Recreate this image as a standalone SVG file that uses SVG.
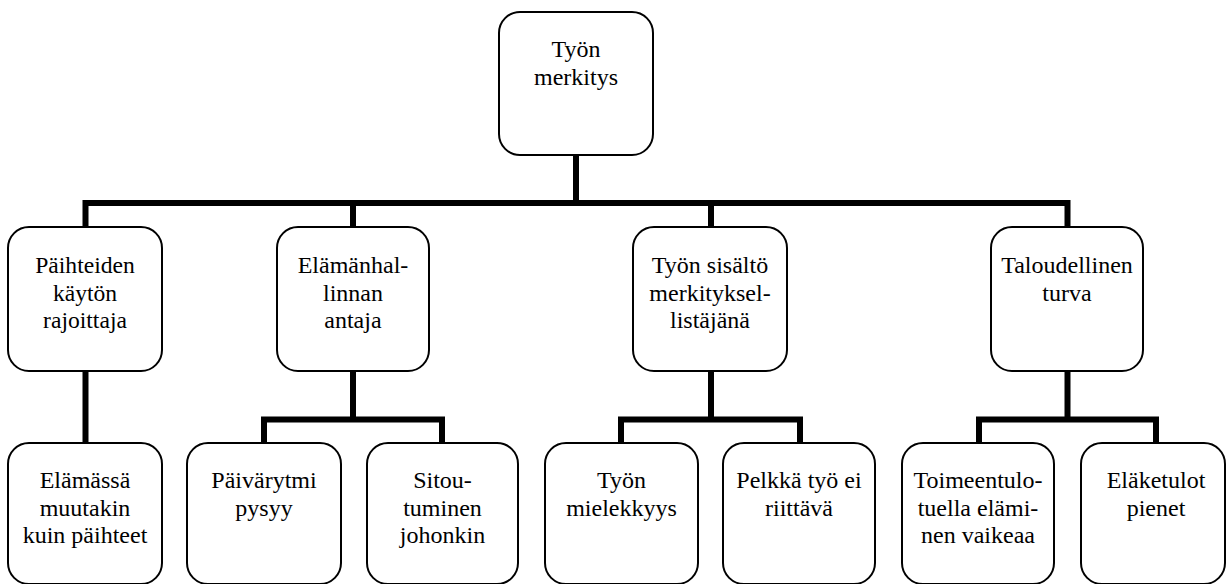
<svg xmlns="http://www.w3.org/2000/svg" width="1229" height="584" viewBox="0 0 1229 584">
<rect width="1229" height="584" fill="#fff"/>
<g id="connectors" fill="none" stroke="#000" stroke-width="6" stroke-linejoin="miter" stroke-linecap="butt">
<path d="M576,155 V203"/>
<path d="M85.5,227 V203 H1067.5 V227"/>
<path d="M353,203 V227"/>
<path d="M711,203 V227"/>
<path d="M85.5,371 V443"/>
<path d="M353,371 V419.5"/>
<path d="M264,443 V419.5 H442 V443"/>
<path d="M711,371 V419.5"/>
<path d="M621,443 V419.5 H800 V443"/>
<path d="M1067.5,371 V419.5"/>
<path d="M979,443 V419.5 H1156 V443"/>
</g>
<g id="n0"><rect x="499" y="12" width="154" height="143" rx="21" fill="#fff" stroke="#000" stroke-width="2"/>
<text x="576" y="57" font-family="Liberation Serif" font-size="24" text-anchor="middle">Työn</text><text x="576" y="85" font-family="Liberation Serif" font-size="24" text-anchor="middle">merkitys</text></g>
<g id="n1"><rect x="8" y="227" width="154" height="144" rx="21" fill="#fff" stroke="#000" stroke-width="2"/>
<text x="85" y="273" font-family="Liberation Serif" font-size="23.6" text-anchor="middle">Päihteiden</text><text x="85" y="300.5" font-family="Liberation Serif" font-size="23.6" text-anchor="middle">käytön</text><text x="85" y="328" font-family="Liberation Serif" font-size="23.6" text-anchor="middle">rajoittaja</text></g>
<g id="n2"><rect x="277" y="227" width="152" height="144" rx="21" fill="#fff" stroke="#000" stroke-width="2"/>
<text x="297.7" y="273" font-family="Liberation Serif" font-size="24">Elämänhal-</text><text x="323" y="300.5" font-family="Liberation Serif" font-size="24">linnan</text><text x="324.3" y="328" font-family="Liberation Serif" font-size="24">antaja</text></g>
<g id="n3"><rect x="633" y="227" width="154" height="144" rx="21" fill="#fff" stroke="#000" stroke-width="2"/>
<text x="710" y="273" font-family="Liberation Serif" font-size="24" text-anchor="middle">Työn sisältö</text><text x="710" y="300.5" font-family="Liberation Serif" font-size="24" text-anchor="middle">merkityksel-</text><text x="710" y="328" font-family="Liberation Serif" font-size="24" text-anchor="middle">listäjänä</text></g>
<g id="n4"><rect x="991" y="227" width="152" height="144" rx="21" fill="#fff" stroke="#000" stroke-width="2"/>
<text x="1067" y="273" font-family="Liberation Serif" font-size="24" text-anchor="middle">Taloudellinen</text><text x="1067" y="300.5" font-family="Liberation Serif" font-size="24" text-anchor="middle">turva</text></g>
<g id="n5"><rect x="8" y="443" width="154" height="141" rx="21" fill="#fff" stroke="#000" stroke-width="2"/>
<text x="85" y="488" font-family="Liberation Serif" font-size="24" text-anchor="middle">Elämässä</text><text x="85" y="515.5" font-family="Liberation Serif" font-size="24" text-anchor="middle">muutakin</text><text x="85" y="543" font-family="Liberation Serif" font-size="24" text-anchor="middle">kuin päihteet</text></g>
<g id="n6"><rect x="187" y="443" width="154" height="141" rx="21" fill="#fff" stroke="#000" stroke-width="2"/>
<text x="264" y="488" font-family="Liberation Serif" font-size="24" text-anchor="middle">Päivärytmi</text><text x="264" y="515.5" font-family="Liberation Serif" font-size="24" text-anchor="middle">pysyy</text></g>
<g id="n7"><rect x="367" y="443" width="151" height="141" rx="21" fill="#fff" stroke="#000" stroke-width="2"/>
<text x="442.5" y="488" font-family="Liberation Serif" font-size="24" text-anchor="middle">Sitou-</text><text x="442.5" y="515.5" font-family="Liberation Serif" font-size="24" text-anchor="middle">tuminen</text><text x="442.5" y="543" font-family="Liberation Serif" font-size="24" text-anchor="middle">johonkin</text></g>
<g id="n8"><rect x="545" y="443" width="153" height="141" rx="21" fill="#fff" stroke="#000" stroke-width="2"/>
<text x="621.5" y="488" font-family="Liberation Serif" font-size="24" text-anchor="middle">Työn</text><text x="621.5" y="515.5" font-family="Liberation Serif" font-size="24" text-anchor="middle">mielekkyys</text></g>
<g id="n9"><rect x="723" y="443" width="152" height="141" rx="21" fill="#fff" stroke="#000" stroke-width="2"/>
<text x="799" y="488" font-family="Liberation Serif" font-size="24" text-anchor="middle">Pelkkä työ ei</text><text x="799" y="515.5" font-family="Liberation Serif" font-size="24" text-anchor="middle">riittävä</text></g>
<g id="n10"><rect x="902" y="443" width="152" height="141" rx="21" fill="#fff" stroke="#000" stroke-width="2"/>
<text x="978" y="488" font-family="Liberation Serif" font-size="24" text-anchor="middle">Toimeentulo-</text><text x="978" y="515.5" font-family="Liberation Serif" font-size="24" text-anchor="middle">tuella elämi-</text><text x="978" y="543" font-family="Liberation Serif" font-size="24" text-anchor="middle">nen vaikeaa</text></g>
<g id="n11"><rect x="1081" y="443" width="144" height="141" rx="21" fill="#fff" stroke="#000" stroke-width="2"/>
<text x="1156" y="488" font-family="Liberation Serif" font-size="24" text-anchor="middle">Eläketulot</text><text x="1156" y="515.5" font-family="Liberation Serif" font-size="24" text-anchor="middle">pienet</text></g>
</svg>
